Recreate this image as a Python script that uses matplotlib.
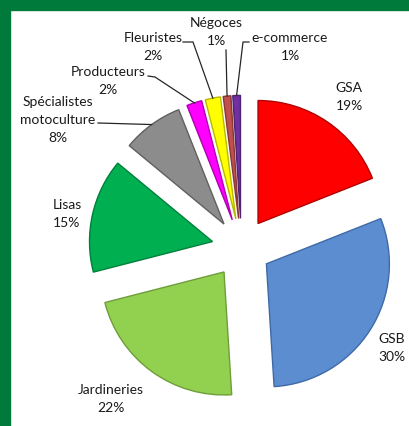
import matplotlib.pyplot as plt
import matplotlib.patches as mpatches
import numpy as np

# données
categories = ['GSA', 'GSB', 'Jardineries', 'Lisas', 'Spécialistes\nmotoculture',
              'Producteurs', 'Fleuristes', 'Négoces', 'e-commerce']
parts = [19, 30, 22, 15, 8, 2, 2, 1, 1]

colors = ['#FF0000', '#5B8DD0', '#92D050', '#00B050', '#8C8C8C',
          '#FF00FF', '#FFFF00', '#C0504D', '#7030A0']
edges = ['#B00000', '#3F6AA6', '#6E9E3A', '#00803C', '#606060',
         '#B000B0', '#B8B800', '#8A3634', '#4F2272']

# position des étiquettes (pixels) et point de départ du trait de rappel
label_pos = [(349, 97), (392, 348), (111, 399), (67, 214), (58, 120),
             (108, 81), (153, 47), (216, 32), (290, 47)]
leader_from = [None, None, None, None, [(98, 123)],
               [(148, 76), (155, 77)], [(183, 42), (193, 42)],
               [(226, 50)], [(249, 42), (243, 42)]]

fig = plt.figure(figsize=(4.1, 4.26), dpi=100)
fig.patch.set_facecolor('white')
# bordure verte (haut et gauche)
fig.patches.append(mpatches.Rectangle((0, 0), 10 / 410, 1, transform=fig.transFigure,
                                      color='#007A3A', zorder=0))
fig.patches.append(mpatches.Rectangle((0, 1 - 10 / 426), 1, 10 / 426, transform=fig.transFigure,
                                      color='#007A3A', zorder=0))

ax = fig.add_axes([0, 0, 1, 1])
wedges, _ = ax.pie(parts, colors=colors, startangle=-90, counterclock=True,
                   center=(241.4, 248), radius=123, explode=[29.6] * len(parts),
                   wedgeprops=dict(linewidth=1.0))
for w, ec in zip(wedges, edges):
    w.set_edgecolor(ec)

ax.set_xlim(0, 410)
ax.set_ylim(426, 0)
ax.set_aspect('auto')
ax.axis('off')

for i, w in enumerate(wedges):
    lab = categories[i] + '\n' + str(parts[i]) + '%'
    ax.text(label_pos[i][0], label_pos[i][1], lab, ha='center', va='center',
            fontsize=10, family='Lato', color='#1A1A1A', linespacing=1.55)
    if leader_from[i] is not None:
        tm = np.radians((w.theta1 + w.theta2) / 2)
        px = w.center[0] + w.r * np.cos(tm)
        py = w.center[1] + w.r * np.sin(tm)
        xs = [p[0] for p in leader_from[i]] + [px]
        ys = [p[1] for p in leader_from[i]] + [py]
        ax.plot(xs, ys, color='#262626', lw=0.9)

fig.savefig('out.png', dpi=100, facecolor='white')
